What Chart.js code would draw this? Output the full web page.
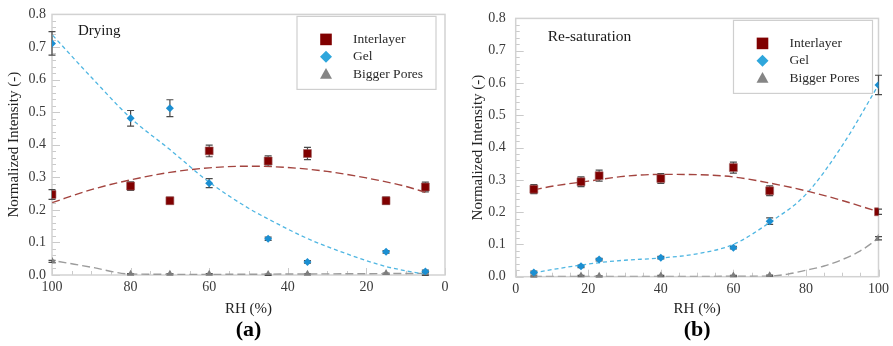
<!DOCTYPE html>
<html>
<head>
<meta charset="utf-8">
<script src="https://cdn.jsdelivr.net/npm/chart.js@4"></script>
<style>
body { margin: 0; background: #fff; }
#wrap { position: relative; width: 893px; height: 346px; }
canvas { position: absolute; top: 0; }
#drying { left: 0; }
#resat { left: 455px; }
</style>
</head>
<body>
<div id="wrap">
<canvas id="drying" width="455" height="346"></canvas>
<canvas id="resat" width="438" height="346"></canvas>
</div>
<script>
// --- drying branch ---
const dryRH = [100, 80, 70, 60, 45, 35, 15, 5];
const dryInterlayer = [0.247, 0.273, 0.228, 0.381, 0.350, 0.373, 0.228, 0.270];
const dryInterlayerErr = [0.015, 0.013, 0.010, 0.018, 0.016, 0.019, 0.011, 0.015];
const dryGel = [0.711, 0.481, 0.512, 0.282, 0.111, 0.040, 0.071, 0.011];
const dryGelErr = [0.036, 0.024, 0.026, 0.014, 0.005, 0.004, 0.004, 0.004];
const dryPores = [0.042, 0.002, 0.002, 0.002, 0.001, 0.002, 0.004, 0.001];
const dryPoresErr = [0.003, 0.002, 0.002, 0.002, 0.002, 0.002, 0.002, 0.002];

// fitted trend lines (drying)
const dryInterlayerFitRH = [5, 10, 20, 30, 40, 50, 60, 70, 80, 90, 100];
const dryInterlayerFit = [0.254, 0.272, 0.298, 0.318, 0.330, 0.334, 0.329, 0.315, 0.292, 0.262, 0.222];
const dryGelFitRH = [5, 15, 25, 35, 45, 50, 60, 70, 80, 90, 100];
const dryGelFit = [0.002, 0.026, 0.065, 0.112, 0.172, 0.205, 0.285, 0.385, 0.482, 0.607, 0.738];
const dryPoresFitRH = [5, 20, 40, 60, 80, 90, 100];
const dryPoresFit = [0.005, 0.004, 0.003, 0.002, 0.003, 0.024, 0.045];

// --- re-saturation branch ---
const wetRH = [5, 18, 23, 40, 60, 70, 100];
const wetInterlayer = [0.271, 0.294, 0.313, 0.304, 0.338, 0.266, 0.201];
const wetInterlayerErr = [0.014, 0.015, 0.017, 0.015, 0.017, 0.015, 0.008];
const wetGel = [0.013, 0.032, 0.053, 0.059, 0.090, 0.172, 0.594];
const wetGelErr = [0.004, 0.004, 0.004, 0.004, 0.004, 0.010, 0.030];
const wetPores = [0.001, 0.002, 0.001, 0.002, 0.002, 0.003, 0.119];
const wetPoresErr = [0.002, 0.002, 0.002, 0.002, 0.002, 0.002, 0.005];

const wetInterlayerFitRH = [5, 10, 20, 30, 40, 50, 60, 70, 80, 90, 100];
const wetInterlayerFit = [0.269, 0.280, 0.296, 0.311, 0.317, 0.316, 0.309, 0.290, 0.266, 0.236, 0.201];
const wetGelFitRH = [5, 10, 18, 25, 30, 40, 50, 60, 70, 80, 90, 100];
const wetGelFit = [0.012, 0.022, 0.036, 0.046, 0.051, 0.058, 0.071, 0.100, 0.168, 0.255, 0.406, 0.594];
const wetPoresFitRH = [5, 40, 70, 75, 80, 85, 90, 95, 100];
const wetPoresFit = [0.001, 0.001, 0.002, 0.008, 0.020, 0.033, 0.053, 0.080, 0.119];

const seriesNames = ['Interlayer', 'Gel', 'Bigger Pores'];
const yTicks = [0, 0.1, 0.2, 0.3, 0.4, 0.5, 0.6, 0.7, 0.8];

Chart.defaults.font.family = "'Liberation Serif', 'Times New Roman', serif";
Chart.defaults.color = '#3a3a3a';

const COLORS = {
    inter: '#800000', interFit: '#a3443f',
    gel: '#1b8fd2', gelFit: '#4fb6e2',
    pores: '#7d7d7d', poresFit: '#9c9c9c'
};

function xy(xs, ys) {
    return xs.map((x, i) => ({x: x, y: ys[i]}));
}

function drawMarker(ctx, style, x, y, r, fill) {
    ctx.fillStyle = fill;
    ctx.beginPath();
    if (style === 'rect') {
        ctx.rect(x - r, y - r, 2 * r, 2 * r);
    } else if (style === 'rectRot') {
        ctx.moveTo(x, y - r); ctx.lineTo(x + r, y); ctx.lineTo(x, y + r); ctx.lineTo(x - r, y);
    } else {
        ctx.moveTo(x, y - r); ctx.lineTo(x + r, y + r * 0.8); ctx.lineTo(x - r, y + r * 0.8);
    }
    ctx.closePath();
    ctx.fill();
}

// frame, inward ticks, error bars, panel label and boxed legend
const panelPlugin = {
    id: 'panel',
    beforeDatasetsDraw(chart, args, opts) {
        const {ctx, chartArea: a, scales} = chart;
        ctx.save();
        ctx.strokeStyle = '#cacaca';
        ctx.lineWidth = 1;
        ctx.beginPath();
        for (let i = 0; i <= 40; i++) {
            const py = Math.round(scales.y.getPixelForValue(i * 0.02)) + 0.5;
            const len = i % 5 === 0 ? 8 : 4;
            ctx.moveTo(a.left, py); ctx.lineTo(a.left + len, py);
        }
        for (let i = 0; i <= 20; i++) {
            const px = Math.round(scales.x.getPixelForValue(i * 5)) + 0.5;
            const len = i % 4 === 0 ? 7 : 4;
            ctx.moveTo(px, a.bottom); ctx.lineTo(px, a.bottom - len);
        }
        ctx.stroke();
        ctx.lineWidth = 1.5;
        ctx.strokeStyle = '#d2d2d2';
        ctx.strokeRect(a.left, a.top, a.right - a.left, a.bottom - a.top);

        // error bars
        ctx.strokeStyle = '#4a4a4a';
        ctx.lineWidth = 1.2;
        chart.data.datasets.forEach(ds => {
            if (!ds.errors) return;
            ds.data.forEach((p, i) => {
                const e = ds.errors[i];
                const px = scales.x.getPixelForValue(p.x);
                const y1 = scales.y.getPixelForValue(p.y + e);
                const y2 = scales.y.getPixelForValue(p.y - e);
                ctx.beginPath();
                ctx.moveTo(px, y1); ctx.lineTo(px, y2);
                ctx.moveTo(px - 3.5, y1); ctx.lineTo(px + 3.5, y1);
                ctx.moveTo(px - 3.5, y2); ctx.lineTo(px + 3.5, y2);
                ctx.stroke();
            });
        });
        ctx.restore();
    },
    afterDraw(chart, args, opts) {
        const {ctx, chartArea: a} = chart;
        ctx.save();
        ctx.fillStyle = '#1a1a1a';
        ctx.font = opts.labelSize + "px 'Liberation Serif', serif";
        ctx.textBaseline = 'middle';
        ctx.textAlign = 'left';
        ctx.fillText(opts.label, a.left + opts.labelDx, a.top + opts.labelDy);

        // legend box in the top right corner
        const w = 139, h = 73;
        const bx = a.right - opts.legendDx - w, by = a.top + opts.legendDy;
        ctx.strokeStyle = '#cfcfcf';
        ctx.lineWidth = 1.2;
        ctx.strokeRect(bx, by, w, h);
        ctx.font = "13.5px 'Liberation Serif', serif";
        const entries = chart.data.datasets.filter(ds => ds.legendMark);
        entries.forEach((ds, i) => {
            const cy = by + 23 + i * 17.3;
            drawMarker(ctx, ds.pointStyle, bx + 29, cy, ds.pointStyle === 'rect' ? 5.8 : 6, ds.legendMark);
            ctx.fillStyle = '#2a2a2a';
            ctx.fillText(ds.label, bx + 56, cy);
        });
        ctx.restore();
    }
};

function makeChart(id, cfg) {
    const datasets = [
        {label: seriesNames[0], data: xy(cfg.rh, cfg.inter), errors: cfg.interErr, pointStyle: 'rect',
         pointRadius: 5.6, backgroundColor: COLORS.inter, borderColor: '#a06060', borderWidth: 0.6,
         legendMark: COLORS.inter, order: 0},
        {label: seriesNames[1], data: xy(cfg.rh, cfg.gel), errors: cfg.gelErr, pointStyle: 'rectRot',
         pointRadius: 4, backgroundColor: COLORS.gel, borderColor: COLORS.gel, borderWidth: 0,
         legendMark: '#2ea6dc', order: 0},
        {label: seriesNames[2], data: xy(cfg.rh, cfg.pores), errors: cfg.poresErr, pointStyle: 'triangle',
         pointRadius: 4.6, backgroundColor: COLORS.pores, borderColor: COLORS.pores, borderWidth: 0,
         legendMark: '#858585', order: 0},
        {label: 'Interlayer fit', data: xy(cfg.interFitRH, cfg.interFit), showLine: true, pointRadius: 0,
         borderColor: COLORS.interFit, borderWidth: 1.4, borderDash: [8, 4], cubicInterpolationMode: 'monotone', order: 1},
        {label: 'Gel fit', data: xy(cfg.gelFitRH, cfg.gelFit), showLine: true, pointRadius: 0,
         borderColor: COLORS.gelFit, borderWidth: 1.3, borderDash: [4, 3], cubicInterpolationMode: 'monotone', order: 1},
        {label: 'Bigger Pores fit', data: xy(cfg.poresFitRH, cfg.poresFit), showLine: true, pointRadius: 0,
         borderColor: COLORS.poresFit, borderWidth: 1.4, borderDash: [8, 4], cubicInterpolationMode: 'monotone', order: 1}
    ];

    return new Chart(document.getElementById(id), {
        type: 'scatter',
        data: {datasets: datasets},
        options: {
            responsive: false,
            animation: false,
            layout: {padding: cfg.padding},
            plugins: {
                legend: {display: false},
                tooltip: {enabled: false},
                title: {
                    display: true, text: cfg.tag, position: 'bottom', fullSize: false,
                    color: '#000', font: {size: 22, weight: 'bold'}, padding: {top: 0, bottom: 2}
                },
                panel: cfg.panel
            },
            scales: {
                x: {
                    type: 'linear', min: 0, max: 100, reverse: cfg.reverse,
                    grid: {display: false, drawTicks: false}, border: {display: false},
                    ticks: {stepSize: 20, padding: 4, font: {size: 14}},
                    title: {display: true, text: 'RH (%)', color: '#222', font: {size: 15}, padding: {top: 2, bottom: 0}},
                    afterFit: s => { s.height = cfg.xHeight; }
                },
                y: {
                    min: 0, max: 0.8,
                    afterBuildTicks: s => { s.ticks = yTicks.map(v => ({value: v})); },
                    grid: {display: false, drawTicks: false}, border: {display: false},
                    ticks: {padding: cfg.yPad, font: {size: 14}, callback: v => v.toFixed(1)},
                    title: {display: true, text: 'Normalized Intensity (-)', color: '#222', font: {size: 15},
                            padding: {top: cfg.yTitlePad, bottom: 0}},
                    afterFit: s => { s.width = cfg.yWidth; }
                }
            }
        },
        plugins: [panelPlugin]
    });
}

makeChart('drying', {
    rh: dryRH, inter: dryInterlayer, interErr: dryInterlayerErr,
    gel: dryGel, gelErr: dryGelErr, pores: dryPores, poresErr: dryPoresErr,
    interFitRH: dryInterlayerFitRH, interFit: dryInterlayerFit,
    gelFitRH: dryGelFitRH, gelFit: dryGelFit,
    poresFitRH: dryPoresFitRH, poresFit: dryPoresFit,
    reverse: true, tag: '(a)',
    padding: {top: 13, right: 10, left: 0, bottom: 0},
    xHeight: 42.6, yWidth: 52, yPad: 6, yTitlePad: 5,
    panel: {label: 'Drying', labelSize: 15, labelDx: 26, labelDy: 17, legendDx: 9, legendDy: 2}
});

makeChart('resat', {
    rh: wetRH, inter: wetInterlayer, interErr: wetInterlayerErr,
    gel: wetGel, gelErr: wetGelErr, pores: wetPores, poresErr: wetPoresErr,
    interFitRH: wetInterlayerFitRH, interFit: wetInterlayerFit,
    gelFitRH: wetGelFitRH, gelFit: wetGelFit,
    poresFitRH: wetPoresFitRH, poresFit: wetPoresFit,
    reverse: false, tag: '(b)',
    padding: {top: 14, right: 12, left: 0, bottom: 0},
    xHeight: 40.9, yWidth: 60.7, yPad: 10, yTitlePad: 14,
    panel: {label: 'Re-saturation', labelSize: 15.5, labelDx: 32, labelDy: 19, legendDx: 6, legendDy: 2}
});
</script>
</body>
</html>
